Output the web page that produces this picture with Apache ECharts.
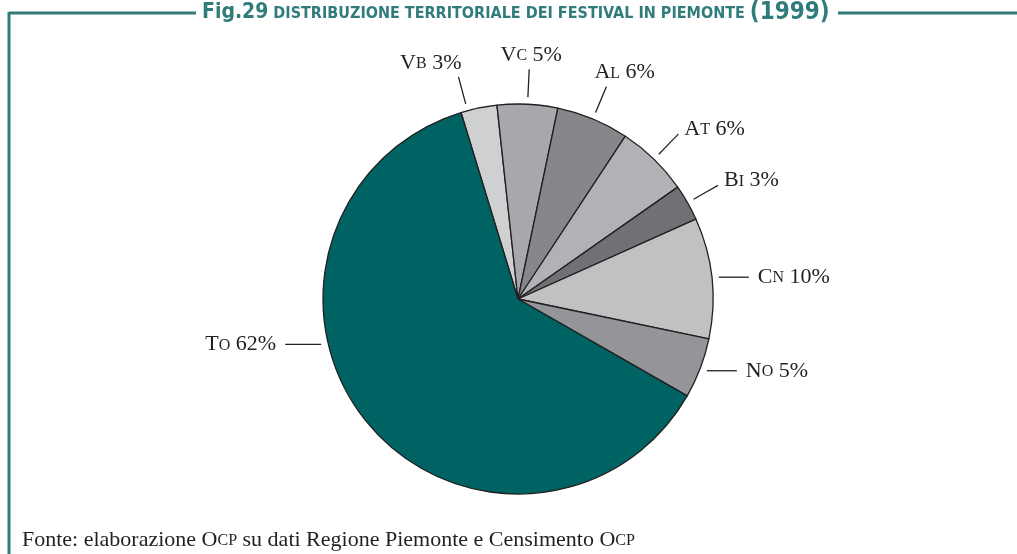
<!DOCTYPE html>
<html>
<head>
<meta charset="utf-8">
<script src="https://cdn.jsdelivr.net/npm/echarts@6/dist/echarts.min.js"></script>
<style>
  html, body { margin: 0; padding: 0; background: #fff; }
  #chart { width: 1017px; height: 554px; }
</style>
</head>
<body>
<div id="chart"></div>
<script>
// Fig.29 — distribuzione territoriale dei festival in Piemonte (1999)
var provinces = ['VB', 'VC', 'AL', 'AT', 'BI', 'CN', 'NO', 'TO'];
var shares = [3, 5, 6, 6, 3, 10, 5, 62];
var sliceColors = ['#cfd0d2', '#a7a8ab', '#86878a', '#b1b2b5', '#707174', '#c0c1c3', '#949598', '#006363'];

var TEAL = '#2f7c7a';
var INK = '#231f20';
var SERIF = '"Liberation Serif", "DejaVu Serif", serif';
var SANS = '"DejaVu Sans Condensed", "DejaVu Sans", sans-serif';

// pie geometry in px
var CX = 518, CY = 299, R = 195, START = 107;
// a few labels sit off their slice's mid angle
var labelAngleOverride = { VB: -15, TO: 257 };

function polar(a, r) {
  var t = a * Math.PI / 180;
  return [CX + r * Math.sin(t), CY - r * Math.cos(t)];
}

// mid angles, clockwise from 12 o'clock
var total = shares.reduce(function(s, v) { return s + v; }, 0);
var midAngles = [];
var acc = 90 - START;
shares.forEach(function(v) {
  var span = v / total * 360;
  midAngles.push(((acc + span / 2) % 360 + 360) % 360);
  acc += span;
});

function layoutLabel(params) {
  var i = params.dataIndex;
  var a = labelAngleOverride[provinces[i]] != null ? labelAngleOverride[provinces[i]] : midAngles[i];
  a = (a % 360 + 360) % 360;
  var p1 = polar(a, R + 7);
  var p2, mid;
  if (a > 70 && a < 290) {
    // horizontal leader
    var dir = a < 180 ? 1 : -1;
    var len = dir > 0 ? 30 : 36;
    p2 = [p1[0] + dir * len, p1[1]];
    return {
      x: p2[0] + dir * 9, y: p2[1],
      align: dir > 0 ? 'left' : 'right', verticalAlign: 'middle',
      labelLinePoints: [p1, [(p1[0] + p2[0]) / 2, p1[1]], p2]
    };
  }
  p2 = polar(a, R + 35);
  mid = polar(a, R + 21);
  if (a > 30 && a < 70) {
    return {
      x: p2[0] + 6, y: p2[1] - 5,
      align: 'left', verticalAlign: 'middle',
      labelLinePoints: [p1, mid, p2]
    };
  }
  var side = a > 180 ? 'right' : (a > 8 ? 'left' : 'center');
  var dx = side === 'right' ? 3 : (side === 'left' ? -12 : 2);
  return {
    x: p2[0] + dx, y: p2[1] - 3,
    align: side, verticalAlign: 'bottom',
    labelLinePoints: [p1, mid, p2]
  };
}

var pieData = provinces.map(function(p, i) {
  return { name: p, value: shares[i], itemStyle: { color: sliceColors[i] } };
});

var chart = echarts.init(document.getElementById('chart'));
chart.setOption({
  animation: false,
  backgroundColor: '#fff',
  title: [{
    text: '{f|Fig.29} {m|DISTRIBUZIONE TERRITORIALE DEI FESTIVAL IN PIEMONTE} {y|(1999)}',
    left: 202, top: 1, padding: 0,
    textStyle: {
      rich: {
        f: { fontFamily: SANS, fontWeight: 'bold', fontSize: 21, color: TEAL, verticalAlign: 'bottom', padding: [0, 0, 2, 0] },
        m: { fontFamily: SANS, fontWeight: 'bold', fontSize: 16, color: TEAL, verticalAlign: 'bottom', padding: [0, 0, 3, 0] },
        y: { fontFamily: SANS, fontWeight: 'bold', fontSize: 24, color: TEAL, verticalAlign: 'bottom' }
      }
    }
  }, {
    text: '{t|Fonte: elaborazione }{c|O}{s|CP}{t| su dati Regione Piemonte e Censimento }{c|O}{s|CP}',
    left: 22, bottom: 3, padding: 0,
    textStyle: {
      fontWeight: 'normal',
      rich: {
        t: { fontFamily: SERIF, fontWeight: 'normal', fontSize: 22, color: INK, verticalAlign: 'bottom' },
        c: { fontFamily: SERIF, fontWeight: 'normal', fontSize: 22, color: INK, verticalAlign: 'bottom' },
        s: { fontFamily: SERIF, fontWeight: 'normal', fontSize: 16, color: INK, verticalAlign: 'bottom', padding: [0, 0, 2, 0] }
      }
    }
  }],
  graphic: [
    { type: 'line', shape: { x1: 9, y1: 13, x2: 196, y2: 13 }, style: { stroke: TEAL, lineWidth: 3 } },
    { type: 'line', shape: { x1: 838, y1: 13, x2: 1017, y2: 13 }, style: { stroke: TEAL, lineWidth: 3 } },
    { type: 'line', shape: { x1: 9, y1: 12, x2: 9, y2: 554 }, style: { stroke: TEAL, lineWidth: 3 } }
  ],
  series: [{
    type: 'pie',
    center: [CX, CY],
    radius: R,
    startAngle: START,
    clockwise: true,
    avoidLabelOverlap: false,
    itemStyle: { borderColor: INK, borderWidth: 1.3 },
    emphasis: { disabled: true },
    label: {
      show: true,
      formatter: function(p) {
        return '{c|' + p.name.charAt(0) + '}{s|' + p.name.slice(1) + '}{c| ' + p.value + '%}';
      },
      rich: {
        c: { fontFamily: SERIF, fontSize: 22, color: INK, verticalAlign: 'bottom' },
        s: { fontFamily: SERIF, fontSize: 16, color: INK, verticalAlign: 'bottom', padding: [0, 0, 2, 0] }
      }
    },
    labelLine: { show: true, length: 28, length2: 0, lineStyle: { color: INK, width: 1.3 } },
    labelLayout: layoutLabel,
    data: pieData
  }]
});
</script>
</body>
</html>
